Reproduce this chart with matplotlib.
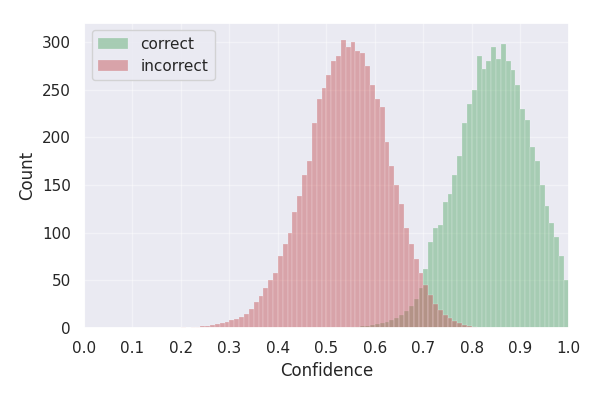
import matplotlib
matplotlib.use("Agg")
import matplotlib.pyplot as plt
import numpy as np
import seaborn as sns

sns.set_theme(style="darkgrid")

# bin left edges (width 0.01) from 0.0 to 0.99
bin_width = 0.01
bin_left = np.round(np.arange(0, 1, bin_width), 2)

# counts per bin
incorrect_counts = [0] * 20 + [
    1, 0, 1, 1, 2, 2, 3, 4, 5, 6,              # 0.20 - 0.29
    8, 9, 12, 15, 20, 27, 34, 42, 50, 58,      # 0.30 - 0.39
    75, 88, 100, 122, 138, 160, 175, 215, 240, 252,   # 0.40 - 0.49
    265, 280, 285, 302, 295, 300, 290, 288, 275, 255, # 0.50 - 0.59
    240, 232, 195, 170, 150, 130, 105, 88, 72, 58,    # 0.60 - 0.69
    45, 35, 25, 19, 14, 10, 7, 5, 3, 2,              # 0.70 - 0.79
    1, 0, 0, 0, 0, 0, 0, 0, 0, 0,                    # 0.80 - 0.89
    0, 0, 0, 0, 0, 0, 0, 0, 0, 0,                    # 0.90 - 0.99
]
correct_counts = [0] * 55 + [
    1, 1, 2, 2, 3,                                   # 0.55 - 0.59
    4, 5, 6, 8, 11, 14, 18, 23, 30, 42,              # 0.60 - 0.69
    62, 90, 105, 108, 132, 140, 160, 180, 215, 235,  # 0.70 - 0.79
    250, 285, 272, 280, 295, 282, 298, 280, 270, 255, # 0.80 - 0.89
    230, 218, 190, 175, 150, 128, 110, 95, 75, 50,   # 0.90 - 0.99
]

fig, ax = plt.subplots(figsize=(6, 4), dpi=100)
fig.subplots_adjust(left=0.14, right=0.948, bottom=0.18, top=0.943)

ax.bar(bin_left, correct_counts, width=bin_width, align="edge", color="#55a868",
       alpha=0.45, edgecolor="white", linewidth=0.3, label="correct")
ax.bar(bin_left, incorrect_counts, width=bin_width, align="edge", color="#c44e52",
       alpha=0.45, edgecolor="white", linewidth=0.3, label="incorrect")

ax.set_xlim(0, 1)
ax.set_ylim(0, 320)
ax.set_xticks(np.round(np.arange(0, 1.01, 0.1), 1))
ax.set_yticks(range(0, 301, 50))
ax.grid(color="white", alpha=0.4)
ax.set_xlabel("Confidence")
ax.set_ylabel("Count")
ax.legend(loc="upper left")

fig.savefig("out.png")
